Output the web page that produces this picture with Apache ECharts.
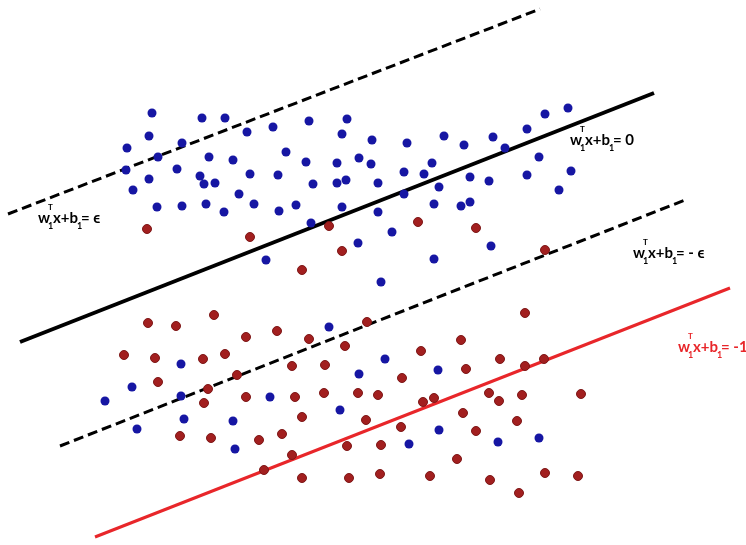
<!DOCTYPE html>
<html lang="en">
<head>
    <meta charset="UTF-8">
    <title>SVM margins</title>
    <script src="https://cdn.jsdelivr.net/npm/echarts@6/dist/echarts.min.js"></script>
    <style>
        html, body { margin: 0; padding: 0; background: #fff; }
        #box { width: 746px; height: 545px; }
    </style>
</head>
<body>
<div id="box"></div>
<script>
    // points in picture coordinates (x right, y down)
    var bluePts = [
        [152,113],[202,118],[225,118],[149,136],[182,143],[127,148],[247,132],[273,127],[309,121],[347,119],
        [342,134],[158,157],[209,157],[233,160],[286,152],[306,162],[337,163],[126,170],[177,169],[149,179],
        [200,176],[204,184],[215,183],[250,174],[278,175],[313,184],[337,183],[346,180],[133,190],[239,194],
        [157,207],[182,206],[206,204],[224,212],[254,204],[279,211],[296,205],[342,207],[311,223],[266,260],
        [545,114],[568,108],[372,140],[407,143],[444,136],[464,145],[493,137],[527,129],[505,148],[359,158],
        [371,164],[432,163],[539,157],[404,172],[424,174],[378,183],[470,177],[489,181],[527,175],[571,171],
        [439,187],[404,194],[559,190],[434,204],[461,206],[470,202],[378,212],[392,232],[358,243],[491,246],
        [434,259],[381,282],[329,327],[181,364],[132,387],[105,401],[181,396],[270,397],[340,410],[184,419],
        [233,421],[137,429],[235,449],[385,359],[359,374],[438,370],[439,430],[409,444],[498,442],[539,438]
    ];
    var redPts = [
        [147,229],[250,237],[329,226],[342,251],[302,270],[418,222],[476,228],[545,250],
        [214,315],[148,323],[176,326],[246,337],[277,331],[309,339],[345,346],[124,355],[155,358],[203,359],
        [225,354],[292,366],[325,365],[237,375],[158,382],[208,389],[204,403],[246,397],[295,397],[324,393],
        [302,417],[180,436],[211,438],[259,440],[282,434],[292,455],[347,446],[264,470],[302,478],[349,478],
        [525,313],[367,322],[461,340],[421,351],[500,359],[525,366],[544,359],[466,369],[402,378],[358,393],
        [378,395],[423,402],[434,398],[489,393],[499,401],[522,395],[581,394],[463,413],[366,420],[401,427],
        [476,431],[517,421],[381,445],[457,459],[380,474],[430,476],[490,480],[545,473],[578,476],[519,493]
    ];
    var lineTopDash = [[8,214],[540,9]];
    var lineSolid = [[20,342],[654,93]];
    var lineMidDash = [[60,446],[685,200]];
    var lineRed = [[95,537],[730,288]];

    // label text: [left, centre y, right-hand side, colour]
    var labels = [
        [38, 218, '= \u03f5', '#000'],
        [570, 140, '= 0', '#000'],
        [633, 253, '= - \u03f5', '#000'],
        [678, 347, '= -1', '#e8262a']
    ];

    var font = 'Lato, "DejaVu Sans", sans-serif';
    function txt(str, x, y, size, color) {
        return {
            type: 'text', x: x, y: y, z: 10,
            style: {
                text: str, fill: color,
                font: 'bold ' + size + 'px ' + font,
                textAlign: 'left', textVerticalAlign: 'middle'
            }
        };
    }
    var graphics = [];
    labels.forEach(function (l) {
        var x = l[0], y = l[1], c = l[3];
        graphics.push(txt('w', x, y, 15, c));
        graphics.push(txt('T', x + 10, y - 11, 8, c));
        graphics.push(txt('1', x + 10, y + 8, 9, c));
        graphics.push(txt('x+b', x + 15, y, 15, c));
        graphics.push(txt('1', x + 39, y + 8, 9, c));
        graphics.push(txt(l[2], x + 43, y, 15, c));
    });

    function lineSeries(data, color, width, type) {
        return {
            type: 'line', data: data, symbol: 'none', silent: true, z: 1,
            lineStyle: { color: color, width: width, type: type }
        };
    }

    var mychart = echarts.init(document.getElementById('box'));
    mychart.setOption({
        animation: false,
        grid: { left: 0, right: 0, top: 0, bottom: 0 },
        xAxis: { type: 'value', min: 0, max: 746, show: false },
        yAxis: { type: 'value', min: 0, max: 545, inverse: true, show: false },
        graphic: graphics,
        series: [
            lineSeries(lineTopDash, '#000', 3, [10, 5]),
            lineSeries(lineSolid, '#000', 4, 'solid'),
            lineSeries(lineMidDash, '#000', 3, [10, 5]),
            lineSeries(lineRed, '#e8262a', 3, 'solid'),
            {
                type: 'scatter', data: bluePts, symbolSize: 9, z: 3,
                itemStyle: { color: '#1616a3', opacity: 1 }
            },
            {
                type: 'scatter', data: redPts, symbolSize: 9, z: 3,
                itemStyle: { color: '#a21f1f', borderColor: '#7d1616', borderWidth: 1, opacity: 1 }
            }
        ]
    });
</script>
</body>
</html>
